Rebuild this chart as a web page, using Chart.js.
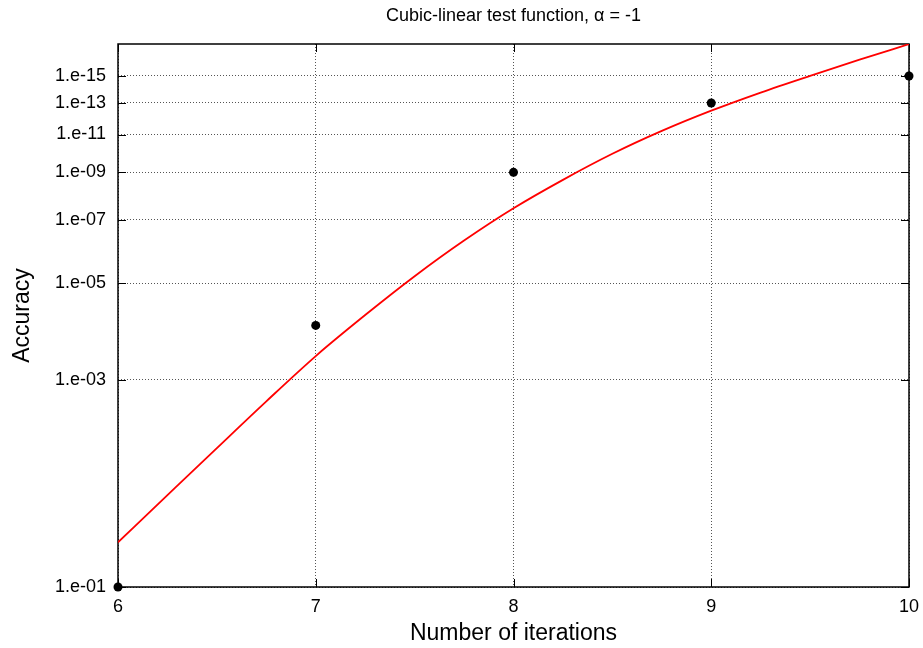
<!DOCTYPE html>
<html><head><meta charset="utf-8">
<script src="https://cdn.jsdelivr.net/npm/chart.js@4"></script>
<style>html,body{margin:0;padding:0;background:#fff;}</style>
</head><body>
<canvas id="c" width="923" height="648"></canvas>
<script>
// ---- data (accuracy = 10^-digits; y axis is logarithmic in the number of digits) ----
const titleText = 'Cubic-linear test function, \u03b1 = -1';
const xLabel = 'Number of iterations';
const yLabel = 'Accuracy';
const iterations = [6, 7, 8, 9, 10];
const measuredDigits = [1, 4, 9, 13, 15];
const fitX = [6, 6.25, 6.5, 6.75, 7, 7.25, 7.5, 7.75, 8, 8.25, 8.5, 8.75, 9, 9.25, 9.5, 9.75, 10];
const fitDigits = [1.267, 1.627, 2.088, 2.675, 3.40, 4.225, 5.19, 6.27, 7.44, 8.65, 9.93, 11.21, 12.48, 13.74, 15.01, 16.35, 17.76];
const xTicks = [6, 7, 8, 9, 10];
const yTickDigits = [1, 3, 5, 7, 9, 11, 13, 15];
const yMaxDigits = 17.77;

const FONT = 'Liberation Sans, Arial, Helvetica, sans-serif';

const framePlugin = {
  id: 'frame',
  beforeDatasetsDraw(chart) {
    const {ctx, chartArea: a, scales: {x, y}} = chart;
    ctx.save();
    ctx.strokeStyle = '#000';
    ctx.lineWidth = 1;
    ctx.beginPath();
    xTicks.forEach(v => {
      const px = Math.round(x.getPixelForValue(v)) + 0.5;
      ctx.moveTo(px, a.bottom); ctx.lineTo(px, a.bottom - 8);
      ctx.moveTo(px, a.top); ctx.lineTo(px, a.top + 8);
    });
    yTickDigits.forEach(v => {
      const py = Math.round(y.getPixelForValue(v)) + 0.5;
      ctx.moveTo(a.left, py); ctx.lineTo(a.left + 8, py);
      ctx.moveTo(a.right, py); ctx.lineTo(a.right - 8, py);
    });
    ctx.stroke();
    ctx.lineWidth = 1.5;
    ctx.strokeRect(a.left, a.top, a.right - a.left, a.bottom - a.top);
    ctx.restore();
  },
  afterDraw(chart) {
    const {ctx, chartArea: a} = chart;
    ctx.save();
    ctx.fillStyle = '#000';
    ctx.font = '18px ' + FONT;
    ctx.textAlign = 'center';
    ctx.textBaseline = 'middle';
    ctx.fillText(titleText, (a.left + a.right) / 2, 16);
    ctx.restore();
  }
};

new Chart(document.getElementById('c'), {
  type: 'scatter',
  data: {
    datasets: [
      {
        label: 'fit',
        data: fitX.map((v, i) => ({x: v, y: fitDigits[i]})),
        showLine: true,
        borderColor: '#ff0000',
        borderWidth: 1.8,
        pointRadius: 0,
        cubicInterpolationMode: 'monotone',
        fill: false,
        order: 2
      },
      {
        label: 'measured',
        data: iterations.map((v, i) => ({x: v, y: measuredDigits[i]})),
        showLine: false,
        pointRadius: 4.5,
        pointBackgroundColor: '#000',
        pointBorderColor: '#000',
        pointBorderWidth: 0,
        clip: false,
        order: 1
      }
    ]
  },
  options: {
    responsive: false,
    animation: false,
    layout: {padding: {top: 44, right: 14, left: 0, bottom: 0}},
    plugins: {legend: {display: false}, tooltip: {enabled: false}, title: {display: false}},
    scales: {
      x: {
        type: 'linear', min: 6, max: 10,
        afterBuildTicks: s => { s.ticks = xTicks.map(v => ({value: v})); },
        grid: {color: '#555', lineWidth: 1, drawTicks: false},
        border: {display: false, dash: [1, 2]},
        ticks: {padding: 9, color: '#000', autoSkip: false, maxRotation: 0, font: {family: FONT, size: 18}},
        title: {display: true, text: xLabel, color: '#000', font: {family: FONT, size: 23}, padding: {top: 0, bottom: 1}},
        afterFit: s => { s.height = 61; s.paddingLeft = 0; s.paddingRight = 0; }
      },
      y: {
        type: 'logarithmic', min: 1, max: yMaxDigits,
        afterBuildTicks: s => { s.ticks = yTickDigits.map(v => ({value: v})); },
        grid: {color: '#555', lineWidth: 1, drawTicks: false},
        border: {display: false, dash: [1, 2]},
        ticks: {
          padding: 12, color: '#000', autoSkip: false, font: {family: FONT, size: 18},
          callback: v => '1.e-' + String(v).padStart(2, '0')
        },
        title: {display: true, text: yLabel, color: '#000', font: {family: FONT, size: 23}, padding: {top: 9, bottom: 0}},
        afterFit: s => { s.width = 118; s.paddingTop = 0; s.paddingBottom = 0; }
      }
    }
  },
  plugins: [framePlugin]
});
</script>
</body></html>
